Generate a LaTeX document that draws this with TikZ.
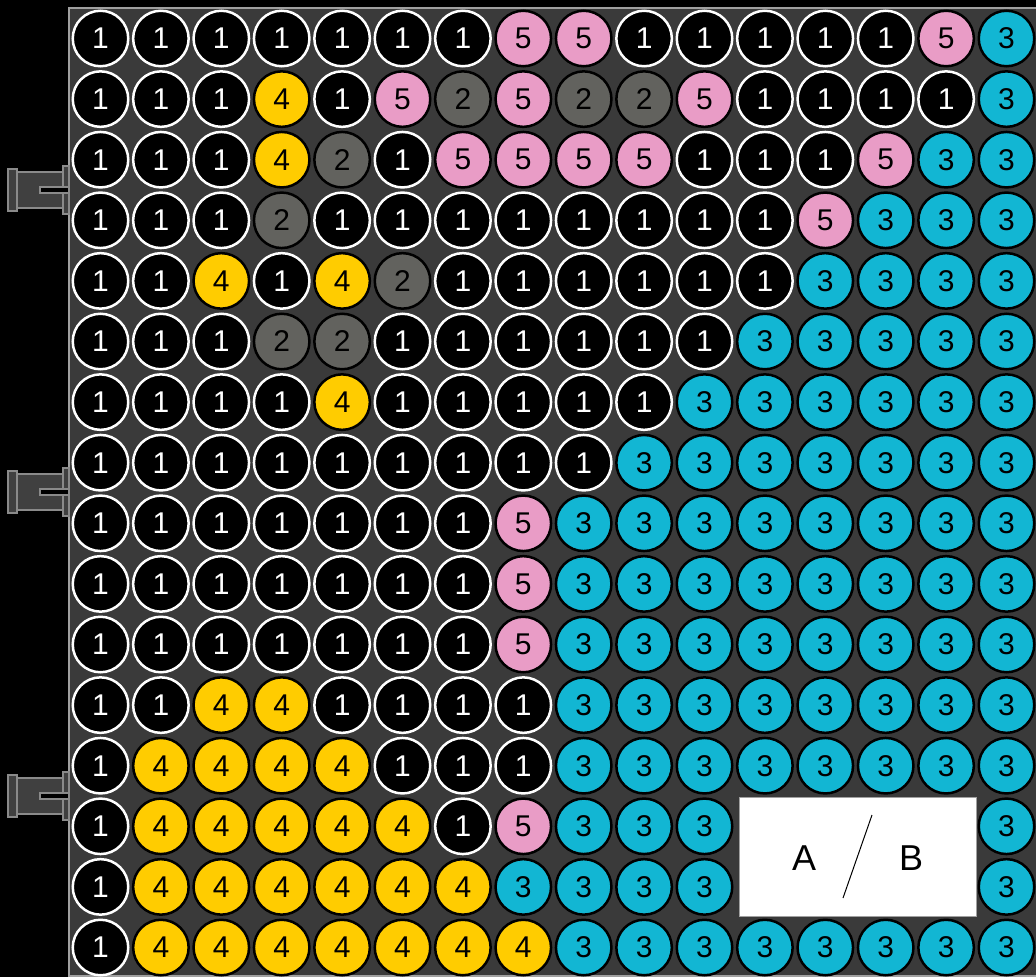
\documentclass[tikz,border=0pt]{standalone}
\usepackage{fontspec}
\setmainfont{Liberation Sans}
\definecolor{panel}{HTML}{3A3A3A}
\definecolor{panelborder}{HTML}{A0A0A0}
\definecolor{cgray}{HTML}{62625E}
\definecolor{cpink}{HTML}{E99CC6}
\definecolor{cyellow}{HTML}{FFCC00}
\definecolor{ccyan}{HTML}{12B6D3}
\definecolor{connfill}{HTML}{404040}
\definecolor{connline}{HTML}{8A8A8A}
\begin{document}
\begin{tikzpicture}[x=1pt,y=-1pt,
  cell/.style={circle, minimum size=55.5pt, inner sep=0pt, line width=2.5pt, font=\fontsize{30}{30}\selectfont},
  v1/.style={fill=black, draw=white, text=white},
  v2/.style={fill=cgray, draw=black, text=black},
  v3/.style={fill=ccyan, draw=black, text=black},
  v4/.style={fill=cyellow, draw=black, text=black},
  v5/.style={fill=cpink, draw=black, text=black},
  conn/.style={fill=connfill, draw=connline, line width=1.2pt},
  lbl/.style={font=\fontsize{36}{36}\selectfont, text=black}]
\useasboundingbox (0,0) rectangle (1036,977);
\fill[black] (0,0) rectangle (1036,977);
\draw[fill=panel, draw=panelborder, line width=2pt] (69,8) rectangle (1046,976);
% connectors
\foreach \cy in {190,492,796} {
  \draw[conn] (17,\cy-18) rectangle (63,\cy+18);
  \draw[conn] (8,\cy-21) rectangle (17,\cy+21);
  \draw[conn] (63,\cy-24) rectangle (69,\cy+24);
  \draw[fill=black, draw=connline, line width=1.2pt] (40,\cy-3) rectangle (69,\cy+3);
}
% grid
\foreach \row [count=\r from 0] in {
 {1,1,1,1,1,1,1,5,5,1,1,1,1,1,5,3},
 {1,1,1,4,1,5,2,5,2,2,5,1,1,1,1,3},
 {1,1,1,4,2,1,5,5,5,5,1,1,1,5,3,3},
 {1,1,1,2,1,1,1,1,1,1,1,1,5,3,3,3},
 {1,1,4,1,4,2,1,1,1,1,1,1,3,3,3,3},
 {1,1,1,2,2,1,1,1,1,1,1,3,3,3,3,3},
 {1,1,1,1,4,1,1,1,1,1,3,3,3,3,3,3},
 {1,1,1,1,1,1,1,1,1,3,3,3,3,3,3,3},
 {1,1,1,1,1,1,1,5,3,3,3,3,3,3,3,3},
 {1,1,1,1,1,1,1,5,3,3,3,3,3,3,3,3},
 {1,1,1,1,1,1,1,5,3,3,3,3,3,3,3,3},
 {1,1,4,4,1,1,1,1,3,3,3,3,3,3,3,3},
 {1,4,4,4,4,1,1,1,3,3,3,3,3,3,3,3},
 {1,4,4,4,4,4,1,5,3,3,3,0,0,0,0,3},
 {1,4,4,4,4,4,4,3,3,3,3,0,0,0,0,3},
 {1,4,4,4,4,4,4,4,3,3,3,3,3,3,3,3}} {
  \foreach \v [count=\c from 0] in \row {
    \ifnum\v>0
      \node[cell, v\v] (c\r-\c) at ({100.5+60.4*\c},{38.5+60.6*\r}) {\v};
    \fi
  }
}
% legend box
\node[draw=panelborder, fill=white, line width=1pt, minimum width=237pt, minimum height=119pt, inner sep=0pt] (box) at (857.5,856.5) {};
\node[lbl] (la) at (804,858) {A};
\node[lbl] (lb) at (911,858) {B};
\coordinate (s1) at (872,815);
\coordinate (s2) at (843,898);
\draw[line width=1pt] (s1) -- (s2);
\end{tikzpicture}
\end{document}
